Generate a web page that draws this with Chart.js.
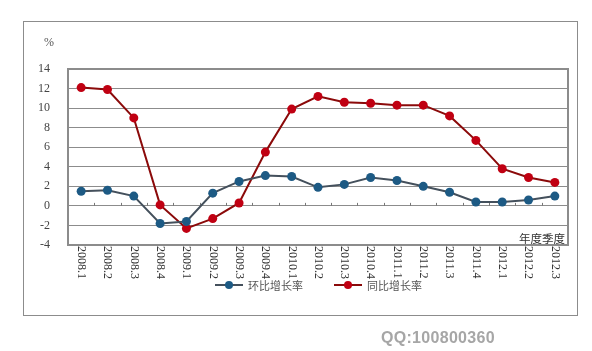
<!DOCTYPE html>
<html>
<head>
<meta charset="utf-8">
<script src="https://cdn.jsdelivr.net/npm/chart.js@4/dist/chart.umd.min.js"></script>
<style>
  html, body { margin: 0; padding: 0; background: #fff; }
  #wrap { position: relative; width: 592px; height: 351px; overflow: hidden; }
  #c { position: absolute; left: 0; top: 0; }
  #frame { position: absolute; left: 23px; top: 21px; width: 553px; height: 293px; border: 1px solid #8c8c8c; pointer-events: none; }
  .txt { position: absolute; white-space: nowrap; }
  #pct { left: 44px; top: 35px; font: 12px 'Liberation Serif', serif; color: #555; }
  #nd { left: 519px; top: 231px; font: 11.5px 'Noto Sans CJK SC', sans-serif; color: #333; line-height: 14px; }
  #qq { left: 381px; top: 329px; font: bold 16px 'Liberation Sans', Arial, sans-serif; color: #a6a6a6; letter-spacing: 0.3px; }
  .leg { position: absolute; top: 277px; width: 100px; height: 16px; font: 11px 'Noto Sans CJK SC', sans-serif; color: #555; line-height: 16px; white-space: nowrap; }
  .leg .ln { position: absolute; left: 0; top: 7px; width: 28px; height: 2px; }
  .leg .dot { position: absolute; top: 4px; left: 10px; width: 8px; height: 8px; border-radius: 50%; }
  .leg .lb { position: absolute; left: 33px; top: 0; }
</style>
</head>
<body>
<div id="wrap">
  <canvas id="c" width="592" height="351"></canvas>
  <div id="frame"></div>
  <div class="txt" id="pct">%</div>
  <div class="txt" id="nd">年度季度</div>
  <div class="leg" style="left:215px;"><span class="ln" style="background:#44505c"></span><span class="dot" style="background:#1d5a84"></span><span class="lb">环比增长率</span></div>
  <div class="leg" style="left:334px;"><span class="ln" style="background:#8b0a0a"></span><span class="dot" style="background:#c00012"></span><span class="lb">同比增长率</span></div>
  <div class="txt" id="qq">QQ:100800360</div>
</div>
<script>
const categories = ['2008.1','2008.2','2008.3','2008.4','2009.1','2009.2','2009.3','2009.4','2010.1','2010.2','2010.3','2010.4','2011.1','2011.2','2011.3','2011.4','2012.1','2012.2','2012.3'];
const qoqGrowth = [1.5, 1.6, 1.0, -1.8, -1.6, 1.3, 2.5, 3.1, 3.0, 1.9, 2.2, 2.9, 2.6, 2.0, 1.4, 0.4, 0.4, 0.6, 1.0];
const yoyGrowth = [12.1, 11.9, 9.0, 0.1, -2.3, -1.3, 0.3, 5.5, 9.9, 11.2, 10.6, 10.5, 10.3, 10.3, 9.2, 6.7, 3.8, 2.9, 2.4];
const seriesNames = ['环比增长率', '同比增长率'];
const yTicks = { min: -4, max: 14, step: 2 };

const framePlugin = {
  id: 'framePlugin',
  beforeDatasetsDraw(chart) {
    const { ctx, chartArea: a, scales } = chart;
    ctx.save();
    ctx.strokeStyle = '#8c8c8c';
    ctx.lineWidth = 2;
    ctx.strokeRect(a.left, a.top, a.right - a.left, a.bottom - a.top);
    const y0 = scales.y.getPixelForValue(0);
    ctx.lineWidth = 1;
    ctx.strokeStyle = '#777';
    ctx.beginPath();
    for (let i = 1; i < categories.length; i++) {
      const xb = Math.round((scales.x.getPixelForValue(i - 1) + scales.x.getPixelForValue(i)) / 2) + 0.5;
      ctx.moveTo(xb, y0);
      ctx.lineTo(xb, y0 - 3);
    }
    ctx.stroke();
    ctx.restore();
  },
  afterDraw(chart) {
    const { ctx, chartArea: a, scales } = chart;
    ctx.save();
    ctx.fillStyle = '#333';
    ctx.font = "12px 'Liberation Serif', serif";
    ctx.textAlign = 'left';
    ctx.textBaseline = 'middle';
    categories.forEach((lab, i) => {
      const x = scales.x.getPixelForValue(i);
      ctx.save();
      ctx.translate(x, a.bottom + 1);
      ctx.rotate(Math.PI / 2);
      ctx.fillText(lab, 0, 0);
      ctx.restore();
    });
    ctx.restore();
  }
};

new Chart(document.getElementById('c'), {
  type: 'line',
  data: {
    labels: categories,
    datasets: [
      {
        label: seriesNames[0], data: qoqGrowth,
        borderColor: '#44505c', borderWidth: 2,
        pointBackgroundColor: '#1d5a84', pointBorderColor: '#1d5a84',
        pointRadius: 4.5, pointBorderWidth: 0, tension: 0
      },
      {
        label: seriesNames[1], data: yoyGrowth,
        borderColor: '#8b0a0a', borderWidth: 2,
        pointBackgroundColor: '#c00012', pointBorderColor: '#c00012',
        pointRadius: 4.5, pointBorderWidth: 0, tension: 0
      }
    ]
  },
  options: {
    responsive: false,
    animation: false,
    events: [],
    layout: { padding: { left: 0, top: 69, right: 24, bottom: 0 } },
    plugins: { legend: { display: false }, tooltip: { enabled: false } },
    scales: {
      x: {
        offset: true,
        grid: { display: false, drawTicks: false },
        border: { display: false },
        ticks: { display: false },
        afterFit(s) { s.height = 106; }
      },
      y: {
        min: yTicks.min, max: yTicks.max,
        ticks: { stepSize: yTicks.step, padding: 18, color: '#444', font: { family: "'Liberation Serif', serif", size: 12 } },
        grid: { color: '#8c8c8c', lineWidth: 1, drawTicks: false },
        border: { display: false },
        afterFit(s) { s.width = 68; }
      }
    }
  },
  plugins: [framePlugin]
});
</script>
</body>
</html>
